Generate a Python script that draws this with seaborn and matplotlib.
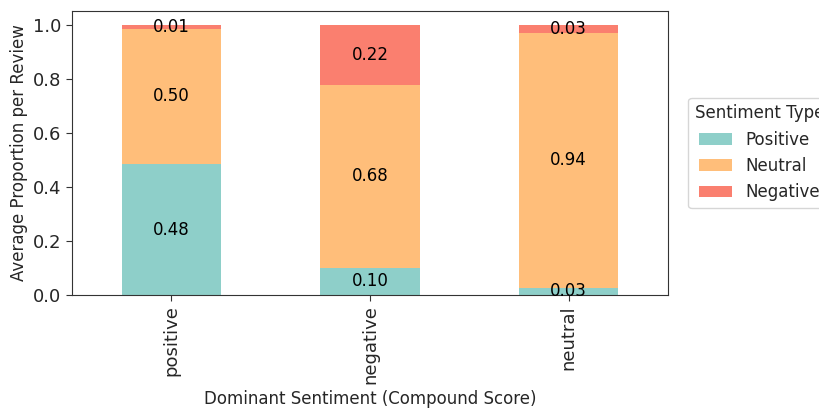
import matplotlib
matplotlib.use("Agg")
import matplotlib.pyplot as plt
import seaborn as sns
import pandas as pd

categories = ["positive", "negative", "neutral"]
positive = [0.484, 0.100, 0.026]
neutral = [0.501, 0.677, 0.943]
negative = [0.015, 0.223, 0.031]
series_names = ["Positive", "Neutral", "Negative"]
colors = ["#8ECFC9", "#FFBE7A", "#FA7F6F"]

sns.set_style("white")
plt.rcParams['font.family'] = ['DejaVu Sans']

fig = plt.figure(figsize=(8.19, 4.08), dpi=100)
ax = fig.add_axes([72 / 819, 1 - 295 / 408, 596 / 819, 284 / 408])

bottom = [0.0] * len(categories)
for name, vals, col in zip(series_names, [positive, neutral, negative], colors):
    df = pd.DataFrame({"cat": categories, "val": vals})
    sns.barplot(data=df, x="cat", y="val", bottom=bottom, color=col, width=0.5,
                label=name, ax=ax, saturation=1, errorbar=None,
                edgecolor="none", linewidth=0)
    for i, v in enumerate(vals):
        ax.text(i, bottom[i] + v / 2, f"{v:.2f}", ha="center", va="center", fontsize=12, color="black")
    bottom = [b + v for b, v in zip(bottom, vals)]

ax.set_ylim(0, 1.05)
ax.set_xlim(-0.5, 2.5)
ax.set_xlabel("Dominant Sentiment (Compound Score)", fontsize=12)
ax.set_ylabel("Average Proportion per Review", fontsize=12)
ax.tick_params(axis="both", labelsize=13, length=4, color="#333333")
plt.setp(ax.get_xticklabels(), rotation=90)
for s in ax.spines.values():
    s.set_color("#333333")
    s.set_linewidth(0.8)
ax.tick_params(bottom=True, left=True)
leg = ax.legend(title="Sentiment Type", loc="center left", bbox_to_anchor=(1.02, 0.5),
                fontsize=12, title_fontsize=12, frameon=True)

fig.savefig("out.png", dpi=100)
